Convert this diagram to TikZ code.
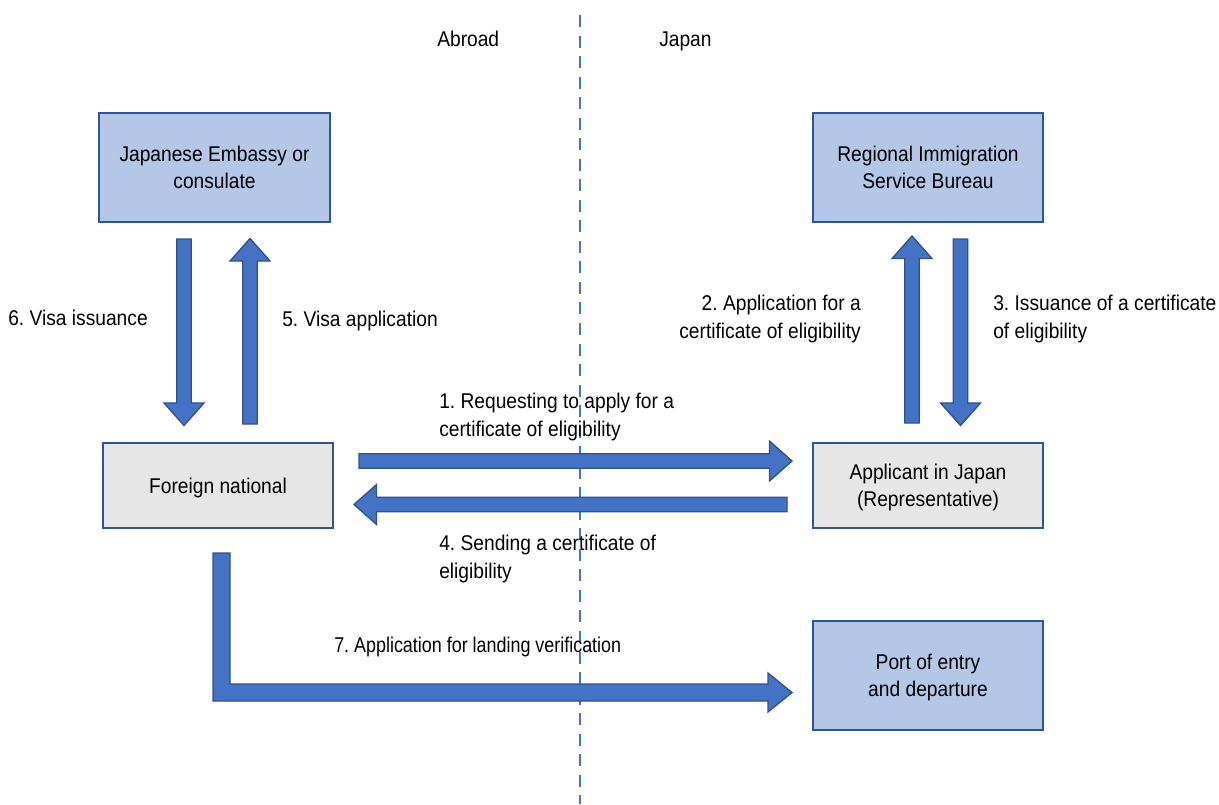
\documentclass[tikz,border=0pt]{standalone}
\usepackage{fontspec}
\setmainfont[FakeStretch=0.9]{Liberation Sans}
\newfontfamily\narrowlbl[FakeStretch=0.84]{Liberation Sans}
\usetikzlibrary{calc}
\frenchspacing
\definecolor{boxblue}{HTML}{B4C7E7}
\definecolor{boxgray}{HTML}{E7E6E6}
\definecolor{edgeblue}{HTML}{2F5597}
\definecolor{arrowfill}{HTML}{4472C4}
\definecolor{arrowedge}{HTML}{2F528F}
\tikzset{
  bluebox/.style={draw=edgeblue, line width=1.5pt, fill=boxblue, align=center, inner sep=0pt, text depth=0pt},
  graybox/.style={draw=edgeblue, line width=1.5pt, fill=boxgray, align=center, inner sep=0pt, text depth=0pt},
  blockarrow/.style={fill=arrowfill, draw=arrowedge, line width=1pt, line join=miter},
  lbl/.style={inner sep=0pt, align=left},
  divider/.style={draw=arrowfill, line width=2.2pt, dash pattern=on 9pt off 6.4pt},
}
% block arrow from coordinate #1 to coordinate #2
\newcommand\blockarr[2]{%
  \path[blockarrow] let \p1=(#1), \p2=(#2),
    \n1={veclen(\x2-\x1,\y2-\y1)}, \n2={atan2(\y2-\y1,\x2-\x1)} in
    [shift={(\x1,\y1)}, rotate=\n2]
    (0pt,-5.4pt) -- (\n1-16.9pt,-5.4pt) -- (\n1-16.9pt,-15pt) -- (\n1,0pt)
    -- (\n1-16.9pt,15pt) -- (\n1-16.9pt,5.4pt) -- (0pt,5.4pt) -- cycle;}
\begin{document}
\begin{tikzpicture}[x=0.75pt, y=-0.75pt, font=\fontsize{16}{20.5}\selectfont]
\useasboundingbox (0,0) rectangle (1219,804);
% divider
\coordinate (dtop) at (580,15);
\coordinate (dbot) at (580,804);
\draw[divider] (dtop) -- (dbot);
\node[lbl, anchor=base west] (abroad) at (437,46) {Abroad};
\node[lbl, anchor=base west] (japan) at (659,46) {Japan};
% boxes
\node[bluebox, minimum width=231*0.75pt, minimum height=109*0.75pt] (emb) at (214.5,167.5) {Japanese Embassy or\\consulate};
\node[bluebox, minimum width=230*0.75pt, minimum height=109*0.75pt] (rib) at (928,167.5) {Regional Immigration\\Service Bureau};
\node[graybox, minimum width=230*0.75pt, minimum height=85*0.75pt] (fn) at (218,485.5) {Foreign national};
\node[graybox, minimum width=230*0.75pt, minimum height=85*0.75pt] (app) at (928,485.5) {Applicant in Japan\\(Representative)};
\node[bluebox, minimum width=230*0.75pt, minimum height=109*0.75pt] (port) at (928,675.5) {Port of entry\\and departure};
% arrow end points
\coordinate (a6s) at (184,239);   \coordinate (a6e) at (184,425.5);
\coordinate (a5s) at (250,424);   \coordinate (a5e) at (250,238.5);
\coordinate (a2s) at (912,423);   \coordinate (a2e) at (912,236);
\coordinate (a3s) at (960.5,239); \coordinate (a3e) at (960.5,425.5);
\coordinate (a1s) at (359,461);   \coordinate (a1e) at (792,461);
\coordinate (a4s) at (787,504.5); \coordinate (a4e) at (354,504.5);
\blockarr{a6s}{a6e}
\blockarr{a5s}{a5e}
\blockarr{a2s}{a2e}
\blockarr{a3s}{a3e}
\blockarr{a1s}{a1e}
\blockarr{a4s}{a4e}
% L-shaped arrow 7
\path[blockarrow] (213,553) -- (230,553) -- (230,684) -- (768,684) -- (768,673)
  -- (792,692.5) -- (768,712) -- (768,701) -- (213,701) -- cycle;
% labels
\node[lbl, anchor=west] (l6) at (8,318) {6. Visa issuance};
\node[lbl, anchor=west] (l5) at (282,321) {5. Visa application};
\node[lbl, anchor=east, align=right] (l2) at (861,319) {2. Application for a\\certificate of eligibility};
\node[lbl, anchor=west] (l3) at (993,319) {3. Issuance of a certificate\\of eligibility};
\node[lbl, anchor=west] (l1) at (439,417) {1. Requesting to apply for a\\certificate of eligibility};
\node[lbl, anchor=west] (l4) at (439,559) {4. Sending a certificate of\\eligibility};
\node[lbl, anchor=west, font=\narrowlbl\fontsize{16}{20.5}\selectfont] (l7) at (334,647) {7. Application for landing verification};
\end{tikzpicture}
\end{document}
